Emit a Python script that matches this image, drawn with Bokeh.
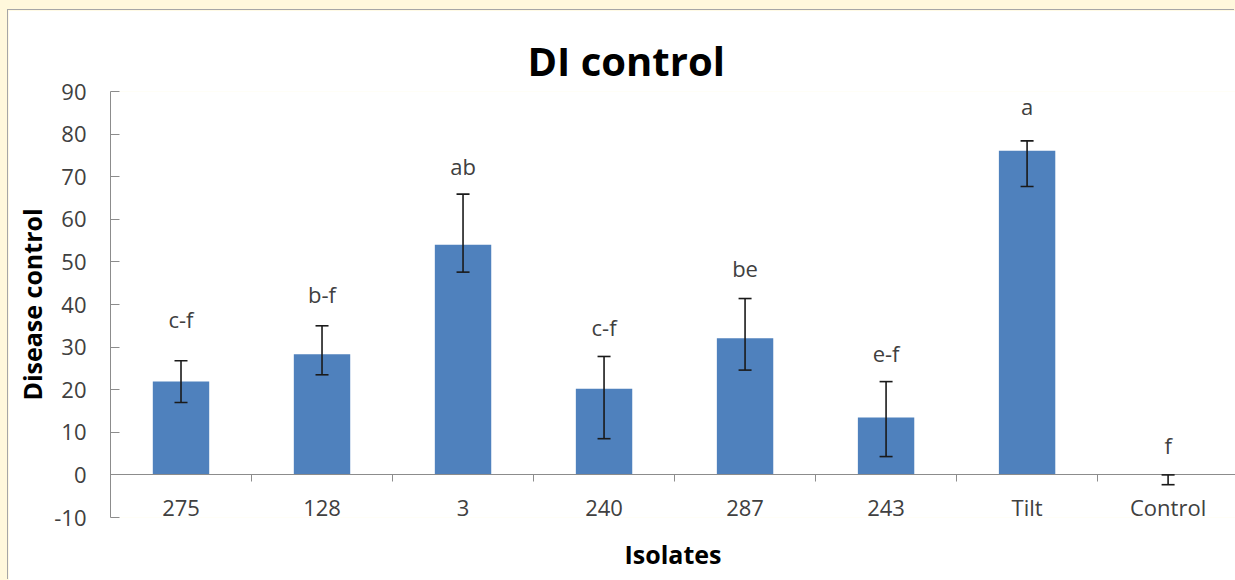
from bokeh.plotting import figure
from bokeh.models import (ColumnDataSource, Range1d, FixedTicker,
                          Whisker, TeeHead, LinearAxis, CustomJSTickFormatter)
from bokeh.core.properties import value
from bokeh.embed import file_html
from bokeh.resources import INLINE

# ---- data ----
categories = ["275", "128", "3", "240", "287", "243", "Tilt", "Control"]
means = [21.9, 28.3, 54.0, 20.2, 32.1, 13.5, 76.1, 0.0]
err_low = [17.0, 23.5, 47.6, 8.5, 24.6, 4.3, 67.7, -2.3]
err_high = [26.8, 35.0, 65.9, 27.8, 41.4, 21.9, 78.4, 0.0]
letters = ["c-f", "b-f", "ab", "c-f", "be", "e-f", "a", "f"]
letter_y = [36.7, 42.4, 72.4, 34.8, 48.5, 28.6, 86.5, 7.0]
y_ticks = [-10, 0, 10, 20, 30, 40, 50, 60, 70, 80, 90]

FONT = "Open Sans"
TXT = "#404040"
AX = "#8c8c8c"

xpos = list(range(len(categories)))
src = ColumnDataSource(dict(x=xpos, top=means, lower=err_low, upper=err_high,
                            lab=letters, ly=letter_y))

p = figure(output_backend="svg", toolbar_location=None,
           frame_width=1125, frame_height=426,
           min_border_left=102, min_border_right=0,
           min_border_top=81, min_border_bottom=63,
           x_range=Range1d(-0.5, len(categories) - 0.522),
           y_range=Range1d(y_ticks[0], y_ticks[-1]),
           title="DI control",
           styles={"box-shadow": "-1px -1px 0 0 #a6a6a6"})

p.background_fill_color = "white"
p.border_fill_color = "white"
p.outline_line_color = None
p.xgrid.grid_line_color = None
p.ygrid.grid_line_color = None

# title
p.title.text_font = FONT
p.title.text_font_size = "40px"
p.title.text_font_style = "bold"
p.title.text_color = "black"
p.title.align = "left"
p.title.offset = 417
p.title.standoff = 8

# bars
p.vbar(x="x", top="top", bottom=0, width=0.4, source=src,
       fill_color="#4F81BD", line_color=None)

# error bars
w = Whisker(base="x", lower="lower", upper="upper", source=src,
            line_color="#1a1a1a", line_width=1.6, level="overlay",
            upper_head=TeeHead(size=13, line_color="#1a1a1a", line_width=1.6),
            lower_head=TeeHead(size=13, line_color="#1a1a1a", line_width=1.6))
p.add_layout(w)

# significance letters
p.text(x="x", y="ly", text="lab", source=src, text_align="center",
       text_baseline="middle", text_font=value(FONT), text_font_size="22px",
       text_color=TXT)

# y axis
ya = p.yaxis[0]
ya.ticker = FixedTicker(ticks=y_ticks)
ya.major_label_overrides = {t: str(t) for t in y_ticks}
ya.axis_line_color = AX
ya.major_tick_line_color = AX
ya.major_tick_in = 9
ya.major_tick_out = 0
ya.minor_tick_line_color = None
ya.major_label_standoff = 24
ya.major_label_text_font = FONT
ya.major_label_text_font_size = "22px"
ya.major_label_text_color = TXT
ya.axis_label = "Disease control"
ya.axis_label_text_font = FONT
ya.axis_label_text_font_size = "25px"
ya.axis_label_text_font_style = "bold"
ya.axis_label_text_color = "black"
ya.axis_label_standoff = 2

# bottom axis: category labels (no line) sitting just above the frame's bottom
xa = p.xaxis[0]
xa.ticker = FixedTicker(ticks=xpos)
xa.major_label_overrides = {i: c for i, c in zip(xpos, categories)}
xa.axis_line_color = None
xa.major_tick_line_color = None
xa.minor_tick_line_color = None
xa.major_label_standoff = -32
xa.major_label_text_font = FONT
xa.major_label_text_font_size = "22px"
xa.major_label_text_color = TXT
xa.axis_label = "Isolates"
xa.axis_label_text_font = FONT
xa.axis_label_text_font_size = "25px"
xa.axis_label_text_font_style = "bold"
xa.axis_label_text_color = "black"
xa.axis_label_standoff = 12

# zero line axis with ticks between categories
za = LinearAxis(fixed_location=0,
                ticker=FixedTicker(ticks=xpos, minor_ticks=[i + 0.5 for i in xpos[:-1]]),
                formatter=CustomJSTickFormatter(code="return ''"))
za.axis_line_color = AX
za.major_tick_line_color = None
za.minor_tick_in = 0
za.minor_tick_out = 7
za.minor_tick_line_color = AX
p.add_layout(za, "below")

html = file_html(p, INLINE)
html = html.replace(
    "</head>",
    "<style>html, body { background: #FFF8DC; } "
    "body { padding: 10px 0 0 8px !important; }</style>\n</head>", 1)
open("out.html", "w").write(html)
